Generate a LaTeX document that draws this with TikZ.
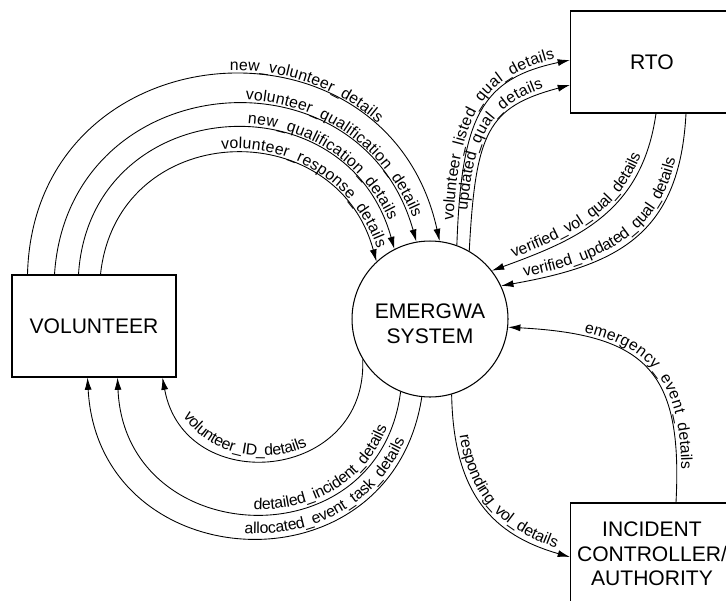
\documentclass[tikz,border=0pt]{standalone}
\usepackage{fontspec}
\setmainfont{Liberation Sans}
\usetikzlibrary{arrows.meta,calc,decorations.text}

\newcommand{\flowfont}{\fontsize{9}{11}\selectfont}
\tikzset{
	entity/.style={draw, line width=0.6pt, minimum width=3.26cm, minimum height=2.04cm, align=center, font=\fontsize{12}{14}\selectfont},
	process/.style={draw, circle, line width=0.6pt, minimum size=3.12cm, inner sep=0pt, font=\fontsize{12}{14}\selectfont},
	flow/.style={line width=0.5pt, -{Latex[length=7pt,width=4pt]}},
	backflow/.style={line width=0.5pt, {Latex[length=7pt,width=4pt]}-},
	lbl/.style 2 args={postaction={decorate, decoration={text along path, text={|\flowfont|#1}, raise=2.6pt, text align={left indent=#2}}}}
}

\begin{document}
\begin{tikzpicture}[x=0.02cm, y=0.02cm]
	\useasboundingbox (0,0) rectangle (726,600);
	\clip (0,0) rectangle (726,600);

	\node[entity, minimum width=3.28cm] (vol) at (94,274) {VOLUNTEER};
	\node[entity] (rto) at (652,538) {RTO};
	\node[entity] (ica) at (652,46) {INCIDENT\\CONTROLLER/\\AUTHORITY};
	\node[process] (sys) at (430,281) {\raisebox{-4pt}[\height][\depth]{\begin{tabular}{@{}c@{}}EMERGWA\\SYSTEM\end{tabular}}};

	% volunteer -> system
	\draw[flow, lbl={new{\_}volunteer{\_}details}{180pt}] ($(vol.north west)+(16,0)$) .. controls +(88.6:246) and +(102.4:246) .. (sys.83);
	\draw[flow, lbl={volunteer{\_}qualification{\_}details}{162pt}] ($(vol.north west)+(43,0)$) .. controls +(86.3:208) and +(105.7:208) .. (sys.100);
	\draw[flow, lbl={new{\_}qualification{\_}details}{142pt}] ($(vol.north west)+(67,0)$) .. controls +(86.4:181) and +(105.5:181) .. (sys.117);
	\draw[flow, lbl={volunteer{\_}response{\_}details}{106pt}] ($(vol.north west)+(89,0)$) .. controls +(83.9:156) and +(105.2:156) .. (sys.133);

	% system <-> rto
	\draw[flow, lbl={volunteer{\_}listed{\_}qual{\_}details}{14pt}] (sys.70) .. controls +(88:130) and +(192:90) .. ($(rto.west)+(0,2)$);
	\draw[flow, lbl={updated{\_}qual{\_}details}{23pt}] (sys.60) .. controls +(87:120) and +(195:85) .. ($(rto.west)+(0,-23)$);
	\draw[backflow, lbl={verified{\_}vol{\_}qual{\_}details}{14pt}] (sys.38) .. controls +(20:90) and +(262:100) .. ($(rto.south west)+(86,0)$);
	\draw[backflow, lbl={verified{\_}updated{\_}qual{\_}details}{14pt}] (sys.25) .. controls +(10:120) and +(267:120) .. ($(rto.south west)+(116,0)$);

	% system -> volunteer
	\draw[backflow, lbl={volunteer{\_}ID{\_}details}{26pt}] ($(vol.south west)+(151,0)$) .. controls +(280.3:123) and +(272.3:123) .. (sys.211);
	\draw[backflow, lbl={detailed{\_}incident{\_}details}{121pt}] ($(vol.south west)+(106,0)$) .. controls +(272.4:173) and +(262.7:173) .. (sys.248);
	\draw[backflow, lbl={allocated{\_}event{\_}task{\_}details}{140pt}] ($(vol.south west)+(76,0)$) .. controls +(273.1:202) and +(261.2:202) .. (sys.264);

	% system <-> incident controller
	\draw[flow, lbl={responding{\_}vol{\_}details}{24pt}] (sys.286) .. controls +(-89:100) and +(164:80) .. ($(ica.west)+(0,-3)$);
	\draw[backflow, lbl={emergency{\_}event{\_}details}{43pt}] (sys.354) .. controls +(-3:140) and +(87:130) .. ($(ica.north west)+(106,0)$);
\end{tikzpicture}
\end{document}
